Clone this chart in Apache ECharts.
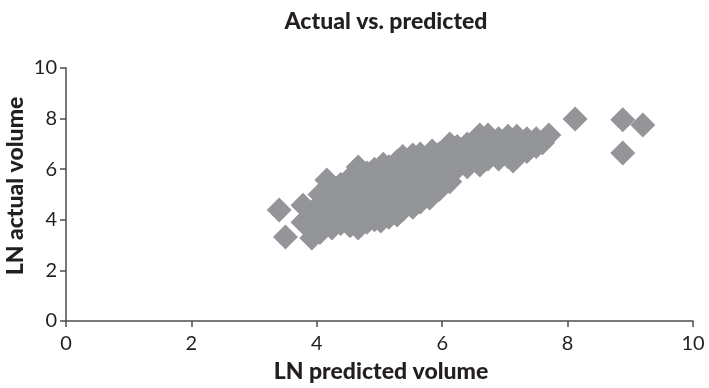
<!DOCTYPE html>
<html><head><meta charset="utf-8">
<script src="https://cdn.jsdelivr.net/npm/echarts@6/dist/echarts.min.js"></script>
<style>html,body{margin:0;padding:0;background:#fff}#c{width:709px;height:388px}</style>
</head><body><div id="c"></div>
<script>
const title = "Actual vs. predicted";
const xName = "LN predicted volume";
const yName = "LN actual volume";
const xTicks = [0, 2, 4, 6, 8, 10];
const yTicks = [0, 2, 4, 6, 8, 10];
// [LN predicted, LN actual]
const points = [
  [3.40,4.39],[3.50,3.32],
  [3.78,4.58],[3.78,3.90],
  [3.92,3.28],[3.92,3.80],[3.92,4.30],
  [4.05,3.50],[4.05,4.00],[4.05,4.60],[4.05,5.00],
  [4.16,5.57],[4.16,4.40],[4.16,3.90],
  [4.24,3.68],[4.24,4.20],[4.24,4.80],[4.24,5.30],
  [4.38,3.85],[4.38,4.35],[4.38,4.90],[4.38,5.40],
  [4.53,3.76],[4.53,4.30],[4.53,4.75],[4.53,5.20],[4.53,5.65],
  [4.66,3.68],[4.66,4.10],[4.66,4.60],[4.66,5.10],[4.66,5.60],[4.66,6.09],
  [4.80,3.90],[4.80,4.40],[4.80,4.90],[4.80,5.40],[4.80,5.85],
  [4.92,4.00],[4.92,4.50],[4.92,5.00],[4.92,5.50],[4.92,6.00],
  [5.02,3.95],[5.02,4.60],[5.02,5.20],[5.02,5.70],[5.06,6.20],
  [5.15,4.10],[5.15,4.60],[5.15,5.10],[5.15,5.60],[5.15,6.10],
  [5.28,4.19],[5.28,4.70],[5.28,5.20],[5.28,5.70],[5.28,6.30],
  [5.37,4.40],[5.37,4.90],[5.37,5.40],[5.37,6.00],[5.37,6.50],
  [5.53,4.50],[5.53,5.00],[5.53,5.50],[5.53,6.00],[5.53,6.56],
  [5.65,4.70],[5.65,5.20],[5.65,5.70],[5.65,6.20],[5.65,6.60],
  [5.80,4.86],[5.80,5.30],[5.80,5.80],[5.80,6.30],[5.84,6.72],
  [5.95,5.20],[5.95,5.60],[5.95,6.10],[5.95,6.60],
  [6.12,5.50],[6.12,6.00],[6.12,6.50],[6.12,7.00],
  [6.24,6.05],[6.24,6.50],[6.24,6.90],
  [6.40,6.10],[6.40,6.50],[6.40,7.00],
  [6.60,6.17],[6.60,6.60],[6.60,7.35],
  [6.73,6.40],[6.73,6.90],[6.73,7.35],
  [6.90,6.40],[6.90,6.80],[6.90,7.20],
  [7.05,6.50],[7.05,6.90],[7.05,7.30],
  [7.13,6.32],[7.19,6.80],[7.19,7.30],
  [7.35,6.70],[7.35,7.10],[7.35,7.20],
  [7.50,6.90],[7.50,7.20],[7.60,7.05],[7.70,7.35],
  [8.12,7.98],[8.88,7.95],[9.20,7.75],[8.88,6.64]
];
const font = 'Lato, "Open Sans", sans-serif';
const ink = '#231f20';
const chart = echarts.init(document.getElementById('c'), null, {renderer:'canvas'});
chart.setOption({
  animation:false,
  backgroundColor:'#fff',
  title:{text:title,left:381,top:5,textAlign:'center',
    textStyle:{fontFamily:font,fontWeight:900,fontSize:23,color:ink}},
  grid:{left:66,right:16,top:68,bottom:67},
  graphic:[
    {type:'text',position:[381,372],style:{text:xName,fontFamily:font,fontWeight:900,fontSize:23,fill:ink,textAlign:'center',textVerticalAlign:'middle'}},
    {type:'text',rotation:Math.PI/2,position:[16,186],style:{text:yName,fontFamily:font,fontWeight:900,fontSize:23,fill:ink,textAlign:'center',textVerticalAlign:'middle'}}
  ],
  xAxis:{type:'value',min:xTicks[0],max:xTicks[xTicks.length-1],interval:2,
    axisLine:{lineStyle:{color:'#4d4d4f',width:1.5}},
    axisTick:{show:true,length:6,lineStyle:{color:'#4d4d4f',width:1.5}},
    axisLabel:{fontFamily:font,fontSize:20,color:ink,margin:13},
    splitLine:{show:false}},
  yAxis:{type:'value',min:yTicks[0],max:yTicks[yTicks.length-1],interval:2,
    axisLine:{show:true,lineStyle:{color:'#4d4d4f',width:1.5}},
    axisTick:{show:true,length:6,lineStyle:{color:'#4d4d4f',width:1.5}},
    axisLabel:{fontFamily:font,fontSize:20,color:ink,margin:9},
    splitLine:{show:false}},
  series:[{type:'scatter',symbol:'diamond',symbolSize:25,data:points,
    itemStyle:{color:'#939598',opacity:1}}]
});
</script></body></html>
